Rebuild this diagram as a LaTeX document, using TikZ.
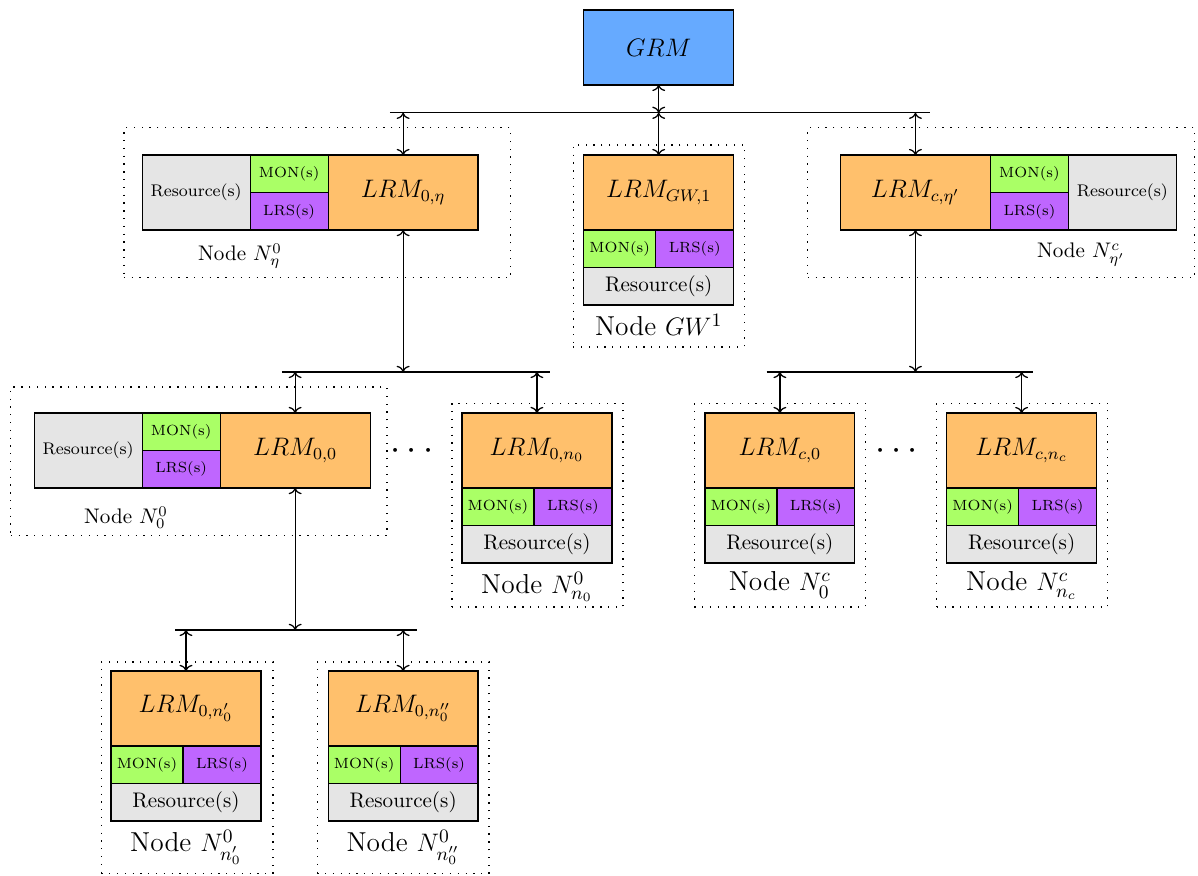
\documentclass[tikz,border=0pt]{standalone}
\usepackage{amsmath,amssymb}
\usepackage{xcolor,tikz}
\usetikzlibrary{arrows.meta,positioning}
\definecolor{grmblue}{HTML}{66AAFF}
\definecolor{lrmorange}{HTML}{FFC06C}
\definecolor{mongreen}{HTML}{AAFF66}
\definecolor{lrspurple}{HTML}{BF66FF}
\definecolor{resgray}{HTML}{E5E5E5}

\begin{document}
\begin{tikzpicture}[
box/.style={draw,semithick,inner sep=0pt,outer sep=0pt,align=center},
grm/.style={box,fill=grmblue,minimum width=2.5cm,minimum height=1.25cm,font=\large},
lrm/.style={box,fill=lrmorange,minimum width=2.5cm,minimum height=1.25cm,font=\large},
vmon/.style={box,fill=mongreen,minimum width=1.2cm,minimum height=0.625cm,font=\scriptsize},
vlrs/.style={box,fill=lrspurple,minimum width=1.3cm,minimum height=0.625cm,font=\scriptsize},
vres/.style={box,fill=resgray,minimum width=2.5cm,minimum height=0.625cm},
hmon/.style={vmon,minimum width=1.3cm},
hlrs/.style={vlrs,minimum width=1.3cm},
hres/.style={box,fill=resgray,minimum width=1.8cm,minimum height=1.25cm,font=\footnotesize},
grp/.style={draw,line width=0.6pt,dash pattern=on 0.6pt off 3.1pt,inner sep=0pt},
lbl/.style={font=\fontsize{13}{15}\selectfont,inner sep=2pt},
bus/.style={semithick},
arr/.style={<->,semithick}]
\useasboundingbox (0,0) rectangle (19.97,-14.6);
% global manager and first bus
\node[grm] (grm) at (10.98,-0.79) {$GRM$};
\coordinate (b1w) at (6.5,-1.88); \coordinate (b1e) at (15.5,-1.88);
\draw[bus] (b1w)--(b1e);
\draw[arr] (grm.south)--(grm.south |- b1w);
% node N_eta^0
\node[grp,minimum width=6.45cm,minimum height=2.5cm] (gEta) at (5.29,-3.38) {};
\node[lrm] (l0eta) at (6.72,-3.21) {$LRM_{0,\eta}$};
\node[hmon,anchor=north east] (m0eta) at (l0eta.north west) {MON(s)};
\node[hlrs,anchor=south east] (s0eta) at (l0eta.south west) {LRS(s)};
\node[hres,anchor=north east] (r0eta) at (m0eta.north west) {Resource(s)};
\node (tEta) at (4.0,-4.27) {Node $N_\eta^0$};
% gateway node
\node[grp,minimum width=2.85cm,minimum height=3.37cm] (gGW) at (10.98,-4.1) {};
\node[lrm] (lgw) at (10.98,-3.21) {$LRM_{GW,1}$};
\node[vmon,anchor=north west] (mgw) at (lgw.south west) {MON(s)};
\node[vlrs,anchor=north east] (sgw) at (lgw.south east) {LRS(s)};
\node[vres,anchor=north west] (rgw) at (mgw.south west) {Resource(s)};
\node[lbl,below=2pt of rgw] (tGW) {Node $GW^1$};
% node N_eta'^c
\node[grp,minimum width=6.45cm,minimum height=2.5cm] (gCeta) at (16.69,-3.38) {};
\node[lrm] (lceta) at (15.26,-3.21) {$LRM_{c,\eta'}$};
\node[hmon,anchor=north west] (mceta) at (lceta.north east) {MON(s)};
\node[hlrs,anchor=south west] (sceta) at (lceta.south east) {LRS(s)};
\node[hres,anchor=north west] (rceta) at (mceta.north east) {Resource(s)};
\node (tCeta) at (18.02,-4.25) {Node $N_{\eta'}^c$};
\draw[arr] (l0eta.north |- b1w)--(l0eta.north);
\draw[arr] (lgw.north |- b1w)--(lgw.north);
\draw[arr] (lceta.north |- b1w)--(lceta.north);
% second level, cluster 0
\coordinate (b2w) at (4.7,-6.2); \coordinate (b2e) at (9.17,-6.2);
\draw[bus] (b2w)--(b2e);
\draw[arr] (l0eta.south)--(l0eta.south |- b2w);
\node[grp,minimum width=6.27cm,minimum height=2.48cm] (g00) at (3.315,-7.69) {};
\node[lrm] (l00) at (4.92,-7.51) {$LRM_{0,0}$};
\node[hmon,anchor=north east] (m00) at (l00.north west) {MON(s)};
\node[hlrs,anchor=south east] (s00) at (l00.south west) {LRS(s)};
\node[hres,anchor=north east] (r00) at (m00.north west) {Resource(s)};
\node (t00) at (2.1,-8.63) {Node $N_0^0$};
\node (dotsL) at (6.92,-7.52) {\LARGE$\cdots$};
\node[grp,minimum width=2.85cm,minimum height=3.4cm] (g0n) at (8.96,-8.42) {};
\node[lrm] (l0n) at (8.95,-7.51) {$LRM_{0,n_0}$};
\node[vmon,anchor=north west] (m0n) at (l0n.south west) {MON(s)};
\node[vlrs,anchor=north east] (s0n) at (l0n.south east) {LRS(s)};
\node[vres,anchor=north west] (r0n) at (m0n.south west) {Resource(s)};
\node[lbl,below=2pt of r0n] (t0n) {Node $N_{n_0}^0$};
\draw[arr] (l00.north |- b2w)--(l00.north);
\draw[arr] (l0n.north |- b2w)--(l0n.north);
% second level, cluster c
\coordinate (b3w) at (12.78,-6.2); \coordinate (b3e) at (17.22,-6.2);
\draw[bus] (b3w)--(b3e);
\draw[arr] (lceta.south)--(lceta.south |- b3w);
\node[grp,minimum width=2.85cm,minimum height=3.4cm] (gc0) at (13.0,-8.42) {};
\node[lrm] (lc0) at (13.0,-7.51) {$LRM_{c,0}$};
\node[vmon,anchor=north west] (mc0) at (lc0.south west) {MON(s)};
\node[vlrs,anchor=north east] (sc0) at (lc0.south east) {LRS(s)};
\node[vres,anchor=north west] (rc0) at (mc0.south west) {Resource(s)};
\node[lbl,below=2pt of rc0] (tc0) {Node $N_0^c$};
\node (dotsR) at (15.0,-7.52) {\LARGE$\cdots$};
\node[grp,minimum width=2.85cm,minimum height=3.4cm] (gcn) at (17.04,-8.42) {};
\node[lrm] (lcn) at (17.03,-7.51) {$LRM_{c,n_c}$};
\node[vmon,anchor=north west] (mcn) at (lcn.south west) {MON(s)};
\node[vlrs,anchor=north east] (scn) at (lcn.south east) {LRS(s)};
\node[vres,anchor=north west] (rcn) at (mcn.south west) {Resource(s)};
\node[lbl,below=2pt of rcn] (tcn) {Node $N_{n_c}^c$};
\draw[arr] (lc0.north |- b3w)--(lc0.north);
\draw[arr] (lcn.north |- b3w)--(lcn.north);
% third level
\coordinate (b4w) at (2.92,-10.5); \coordinate (b4e) at (6.95,-10.5);
\draw[bus] (b4w)--(b4e);
\draw[arr] (l00.south)--(l00.south |- b4w);
\node[grp,minimum width=2.86cm,minimum height=3.53cm] (g0a) at (3.12,-12.8) {};
\node[lrm] (l0a) at (3.1,-11.81) {$LRM_{0,n_0'}$};
\node[vmon,anchor=north west] (m0a) at (l0a.south west) {MON(s)};
\node[vlrs,anchor=north east] (s0a) at (l0a.south east) {LRS(s)};
\node[vres,anchor=north west] (r0a) at (m0a.south west) {Resource(s)};
\node[lbl,below=2pt of r0a] (t0a) {Node $N_{n_0'}^0$};
\node[grp,minimum width=2.86cm,minimum height=3.53cm] (g0b) at (6.72,-12.8) {};
\node[lrm] (l0b) at (6.72,-11.81) {$LRM_{0,n_0''}$};
\node[vmon,anchor=north west] (m0b) at (l0b.south west) {MON(s)};
\node[vlrs,anchor=north east] (s0b) at (l0b.south east) {LRS(s)};
\node[vres,anchor=north west] (r0b) at (m0b.south west) {Resource(s)};
\node[lbl,below=2pt of r0b] (t0b) {Node $N_{n_0''}^0$};
\draw[arr] (l0a.north |- b4w)--(l0a.north);
\draw[arr] (l0b.north |- b4w)--(l0b.north);
\end{tikzpicture}
\end{document}
